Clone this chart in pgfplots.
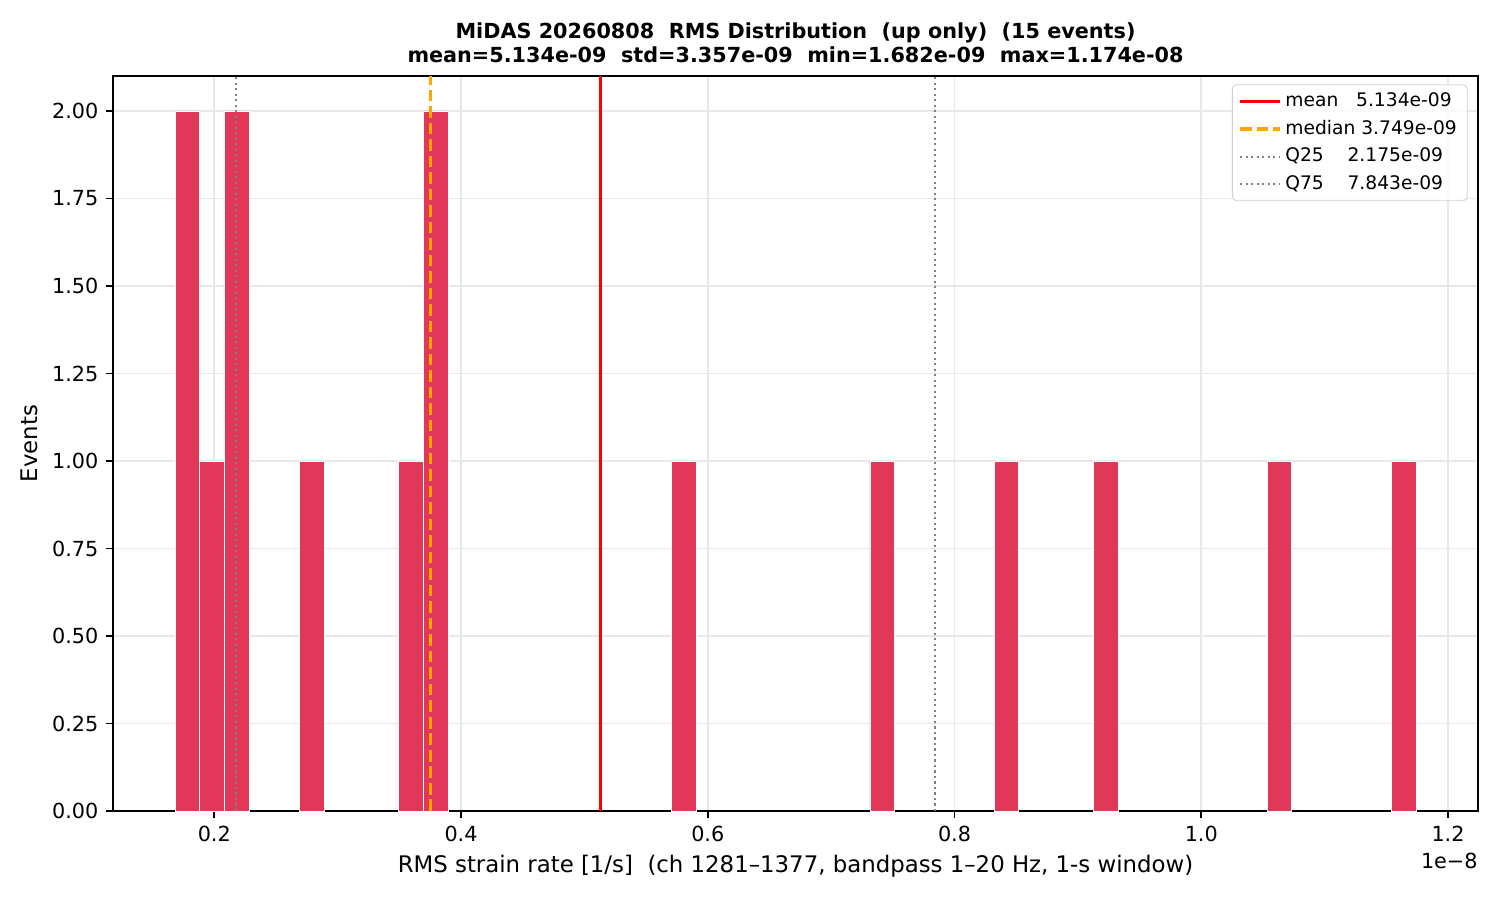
\documentclass[border=0pt]{standalone}
\usepackage{fontspec}
\setmainfont{DejaVu Sans}
\usepackage{pgfplots}
\pgfplotsset{compat=1.18}

\definecolor{barred}{RGB}{225,55,89}
\definecolor{medorange}{RGB}{255,165,0}

\begin{document}
\begin{tikzpicture}
\begin{axis}[
    name=main,
    at={(0,0)}, anchor=south west,
    scale only axis,
    width=9.1in, height=4.9in,
    xmin=0.1179, xmax=1.2243,
    ymin=0, ymax=2.1,
    xtick={0.2,0.4,0.6,0.8,1.0,1.2},
    ytick={0,0.25,0.5,0.75,1,1.25,1.5,1.75,2},
    /pgf/number format/assume math mode=true,
    xticklabel style={/pgf/number format/.cd, fixed, fixed zerofill, precision=1},
    yticklabel style={/pgf/number format/.cd, fixed, fixed zerofill, precision=2},
    tick label style={font=\fontsize{10}{12}\selectfont},
    label style={font=\fontsize{11}{13}\selectfont},
    tick align=outside,
    major tick length=3.5pt,
    tick style={black, line width=0.8pt},
    xtick pos=bottom, ytick pos=left,
    axis line style={line width=0.8pt},
    grid=major,
    major grid style={black!9, line width=0.8pt},
    xlabel={RMS strain rate [1/s]\ \ (ch 1281–1377, bandpass 1–20 Hz, 1-s window)},
    ylabel={Events},
    title={MiDAS 20260808\ \ RMS Distribution\ \ (up only)\ \ (15 events)\\mean=5.134e-09\ \ std=3.357e-09\ \ min=1.682e-09\ \ max=1.174e-08},
    title style={font=\bfseries\fontsize{10}{11.6}\selectfont, align=center, yshift=-3pt},
    legend style={at={(1,1)}, anchor=north east, xshift=-5pt, yshift=-4pt,
        font=\fontsize{9}{11}\selectfont, draw=black!18, rounded corners=2pt,
        fill=white, fill opacity=0.8, text opacity=1, row sep=1pt,
        cells={anchor=west}},
    legend cell align=left,
    legend image code/.code={\draw[#1] (0cm,0cm) -- (0.67cm,0cm);},
]
% histogram, 50 bins between min and max (x in units of 1e-8)
\addplot[ybar, bar width=0.020116, fill=barred, draw=white, line width=0.4pt, forget plot]
coordinates {
(0.178258,2) (0.198374,1) (0.218490,2) (0.278838,1) (0.359302,1) (0.379418,2)
(0.580578,1) (0.741506,1) (0.842086,1) (0.922550,1) (1.063362,1) (1.163942,1)
};
\addplot[red, line width=1.5pt] coordinates {(0.5134,0) (0.5134,2.1)};
\addlegendentry{mean\ \ \ 5.134e-09}
\addplot[medorange, line width=1.5pt, dash pattern=on 5.55pt off 2.4pt] coordinates {(0.3749,0) (0.3749,2.1)};
\addlegendentry{median 3.749e-09}
\addplot[black!50, line width=1pt, dash pattern=on 1pt off 1.65pt] coordinates {(0.2175,0) (0.2175,2.1)};
\addlegendentry{Q25\ \ \ \ 2.175e-09}
\addplot[black!50, line width=1pt, dash pattern=on 1pt off 1.65pt] coordinates {(0.7843,0) (0.7843,2.1)};
\addlegendentry{Q75\ \ \ \ 7.843e-09}
\end{axis}
\node[anchor=north east, font=\fontsize{10}{12}\selectfont, inner sep=0pt] at ([yshift=-20pt]main.south east) {1e−8};
\useasboundingbox (-0.7533in,-0.5933in) rectangle (9.2467in,5.4067in);
\end{tikzpicture}
\end{document}
